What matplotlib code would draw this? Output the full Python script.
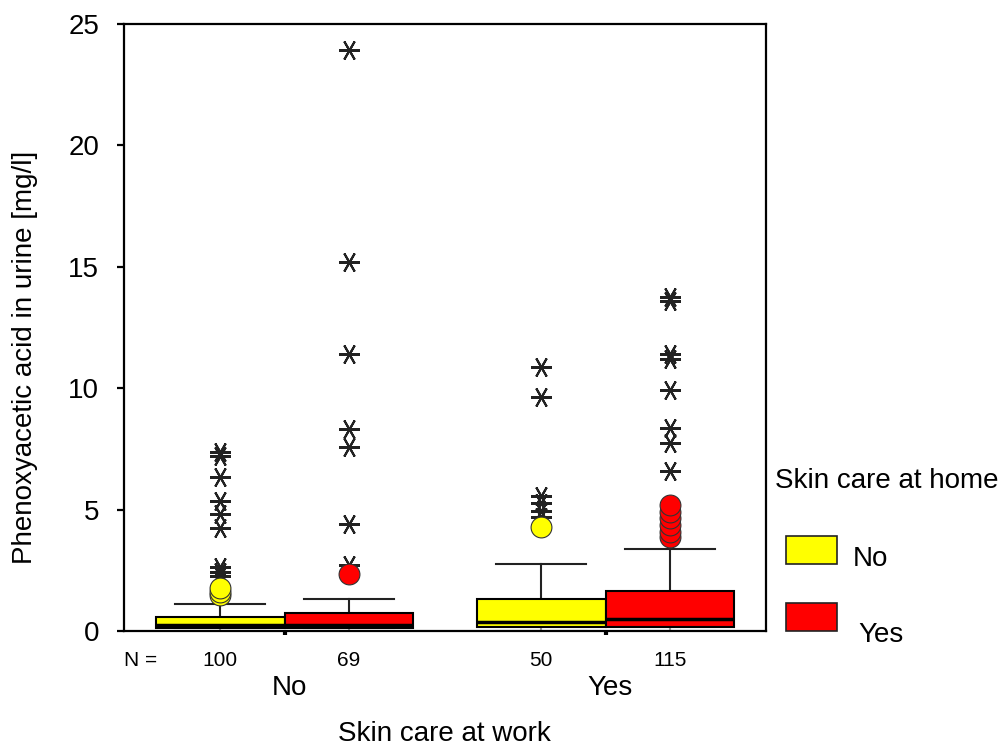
import matplotlib
matplotlib.use("Agg")
import matplotlib.pyplot as plt
from matplotlib.patches import Rectangle

plt.rcParams['font.family'] = ['Liberation Sans', 'DejaVu Sans']

# ---- data ----
work_groups = ["No", "Yes"]            # Skin care at work
home_groups = ["No", "Yes"]            # Skin care at home
home_colors = ["#FFFF00", "#FF0000"]
n_counts = [100, 69, 50, 115]
q1 = [0.12, 0.12, 0.15, 0.15]
med = [0.25, 0.24, 0.38, 0.49]
q3 = [0.58, 0.75, 1.32, 1.65]
whislo = [0.02, 0.02, 0.02, 0.02]
whishi = [1.11, 1.30, 2.75, 3.39]
outliers = [[1.50, 1.62, 1.76],
            [2.33],
            [4.30],
            [3.88, 4.09, 4.37, 4.64, 4.91, 5.17]]
extremes = [[2.26, 2.44, 2.65, 4.23, 4.80, 5.35, 6.33, 7.22, 7.38],
            [2.70, 4.39, 7.57, 8.30, 11.41, 15.2, 23.93],
            [4.68, 4.95, 5.26, 5.56, 9.65, 10.86],
            [6.59, 7.73, 8.35, 9.93, 11.19, 11.41, 13.6, 13.77]]
yticks = [0, 5, 10, 15, 20, 25]

# ---- figure ----
fig = plt.figure(figsize=(10.06, 7.47), dpi=100)
ax = fig.add_axes([124/1006, 1-631/747, (766-124)/1006, (631-24)/747])

offset = 0.2
width = 0.4
positions = []
colors = []
for gi in range(len(work_groups)):
    for hi in range(len(home_groups)):
        positions.append(gi + (hi - 0.5) * 2 * offset)
        colors.append(home_colors[hi])

stats = []
for i in range(len(n_counts)):
    stats.append(dict(q1=q1[i], med=med[i], q3=q3[i],
                      whislo=whislo[i], whishi=whishi[i], fliers=[]))

bp = ax.bxp(stats, positions=positions, widths=width, capwidths=0.28,
            patch_artist=True, showfliers=False,
            boxprops=dict(edgecolor='black', linewidth=1.5),
            medianprops=dict(color='black', linewidth=2.5),
            whiskerprops=dict(color='#222222', linewidth=1.5),
            capprops=dict(color='#222222', linewidth=1.5))
for patch, c in zip(bp['boxes'], colors):
    patch.set_facecolor(c)
    patch.set_zorder(3)
for m in bp['medians']:
    m.set_zorder(4)
for i in range(len(n_counts)):
    bp['whiskers'][2*i].set_color('#999999')
    bp['caps'][2*i].set_color('#999999')

star = (6, 2, 90)
for i, pos in enumerate(positions):
    ax.plot([pos]*len(extremes[i]), extremes[i], linestyle='none',
            marker=star, markersize=15, markeredgewidth=1.5,
            color='#222222', zorder=5)
    ax.plot([pos]*len(outliers[i]), outliers[i], linestyle='none',
            marker='o', markersize=15, markerfacecolor=colors[i],
            markeredgecolor='#333333', markeredgewidth=0.8, zorder=6)

ax.set_xlim(-0.5, 1.5)
ax.set_ylim(0, 25)
ax.set_yticks(yticks)
ax.set_yticklabels([str(t) for t in yticks], fontsize=20)
ax.set_xticks([0, 1])
ax.set_xticklabels([])
ax.tick_params(axis='y', direction='out', length=5, width=1.6, pad=13)
ax.tick_params(axis='x', direction='out', length=3, width=3)
for sp in ax.spines.values():
    sp.set_linewidth(1.6)

# N row and group labels
ax.text(-0.5, -0.048, "N =", transform=ax.get_xaxis_transform(),
        ha='left', va='center', fontsize=15)
for pos, n in zip(positions, n_counts):
    ax.text(pos, -0.048, str(n), transform=ax.get_xaxis_transform(),
            ha='center', va='center', fontsize=15)
for gi, g in enumerate(work_groups):
    ax.text(gi + 0.015, -0.094, g, transform=ax.get_xaxis_transform(),
            ha='center', va='center', fontsize=20)

fig.text(444/1006, 1-734/747, "Skin care at work", ha='center', va='center', fontsize=20)
fig.text(25/1006, 1-357/747, "Phenoxyacetic acid in urine [mg/l]",
         rotation=90, ha='center', va='center', fontsize=20)

# legend
fig.text(775/1006, 1-481/747, "Skin care at home", ha='left', va='center', fontsize=20)
leg_y = [564, 631]
leg_tx = [853, 858]
leg_ty = [559, 635]
for hi, h in enumerate(home_groups):
    fig.add_artist(Rectangle((786/1006, 1-leg_y[hi]/747), 51/1006, 28/747,
                             transform=fig.transFigure, facecolor=home_colors[hi],
                             edgecolor='#222222', linewidth=1.2))
    fig.text(leg_tx[hi]/1006, 1-leg_ty[hi]/747, h, ha='left', va='center', fontsize=20)

fig.savefig("out.png", dpi=100)
